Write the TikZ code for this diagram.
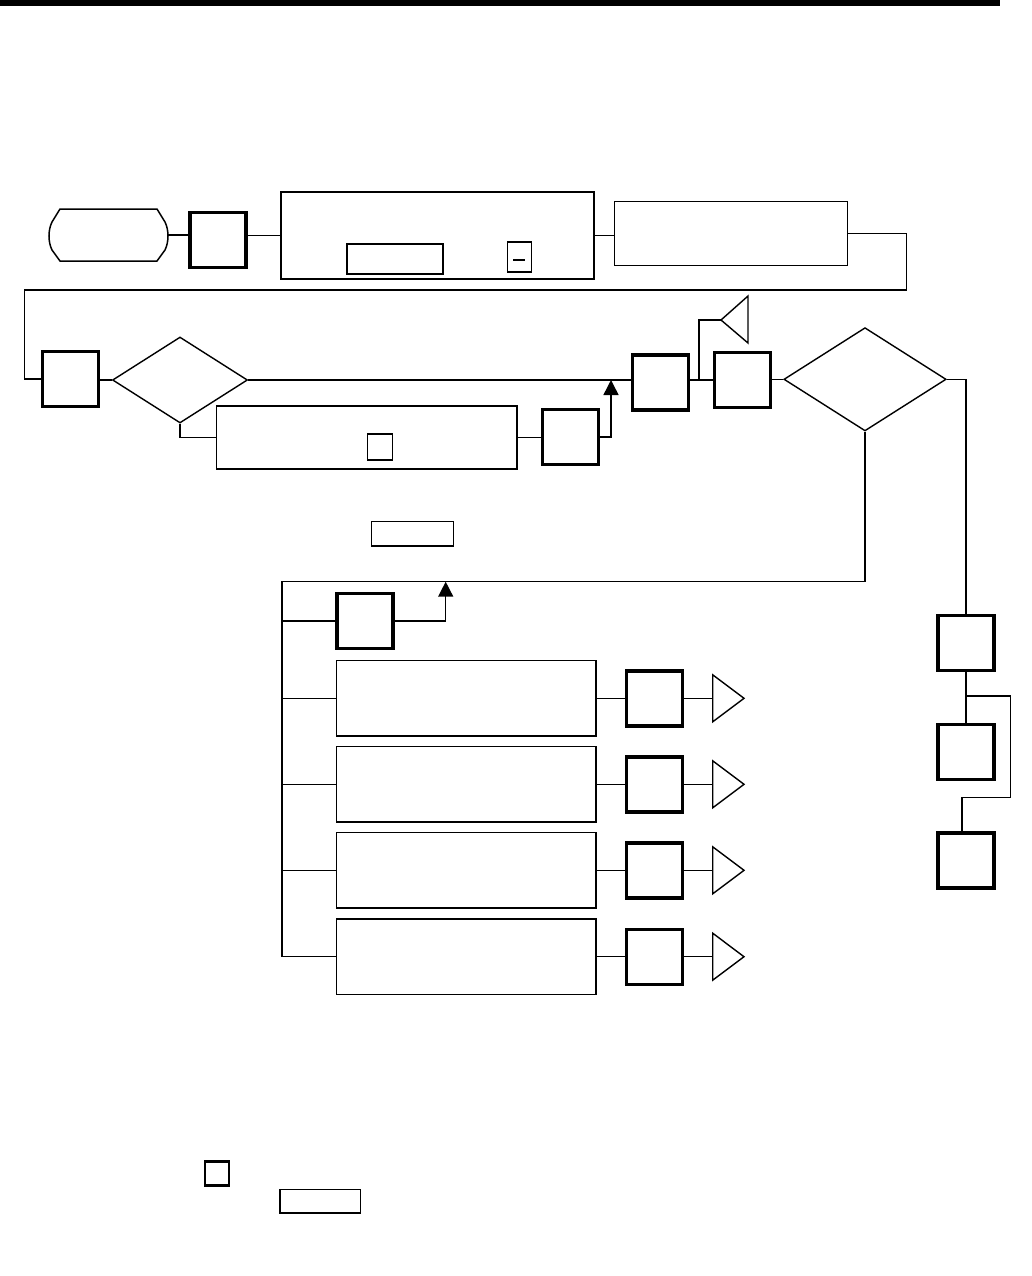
\documentclass[tikz,border=0pt]{standalone}
\usetikzlibrary{shapes.geometric,arrows.meta}
\begin{document}
\begin{tikzpicture}[x=1pt,y=-1pt,
  plainbox/.style={draw,line width=1.5pt,inner sep=0pt,rectangle},
  thickbox/.style={draw,line width=3.4pt,inner sep=0pt,rectangle,minimum width=56pt,minimum height=55pt},
  decision/.style={draw,line width=1.4pt,diamond,inner sep=0pt},
  link/.style={line width=1.5pt},
  uparrow/.style={line width=1.5pt,-{Triangle[width=15pt,length=15pt]}},
  flag/.style={draw,line width=1.4pt,line join=miter}]
\useasboundingbox (0,0) rectangle (1031,1276);
% top bar
\fill (0,0) rectangle (1000,6);
% terminal
\draw[link] (60,209) -- (157,209) -- (165,222) .. controls (169,230) and (169,242) .. (165,250) -- (157,261) -- (60,261) -- (52,250) .. controls (48,242) and (48,230) .. (52,222) -- cycle;
\coordinate (term) at (168,235);
% first row
\node[thickbox] (b1) at (218,240) {};
\node[plainbox,minimum width=313pt,minimum height=87pt] (b2) at (437.5,235.5) {};
\node[plainbox,minimum width=96pt,minimum height=30pt] (b2a) at (395,259) {};
\node[plainbox,minimum width=24pt,minimum height=30pt] (b2b) at (519.5,257) {};
\draw[link] (513,260) -- (525,260);
\node[plainbox,minimum width=232.6pt,minimum height=64pt] (b3) at (731,233.7) {};
\draw[link] (term) -- (term -| b1.west);
\draw[link] (b1.east |- b2.west) -- (b2.west);
\draw[link] (b2.east) -- (b2.east -| b3.west);
\coordinate (c1) at (906.7,290);
\coordinate (c2) at (24.3,379);
% second row
\node[thickbox] (b4) at (70.3,379) {};
\node[decision,minimum width=135pt,minimum height=86pt] (d1) at (180,380) {};
\node[plainbox,minimum width=300.3pt,minimum height=63.3pt] (b7) at (366.8,437.4) {};
\node[plainbox,minimum width=24.6pt,minimum height=26pt] (b7a) at (380,447) {};
\node[thickbox] (b6) at (570.3,437) {};
\node[thickbox] (b5) at (660.5,382.3) {};
\node[thickbox] (b8) at (742.3,380) {};
\node[decision,minimum width=162.3pt,minimum height=103.3pt] (d2) at (865,379.3) {};
\draw[link] (b3.east) -| (c1) -| (c2) -- (c2 -| b4.west);
\draw[link] (b4.east |- d1.west) -- (d1.west);
\coordinate (m1) at (611,380);
\draw[link] (d1.east) -- (d1.east -| b5.west);
\draw[link] (d1.south) |- (b7.west);
\draw[link] (b7.east) -- (b7.east -| b6.west);
\draw[uparrow] (b6.east) -| (m1);
\draw[link] (b5.east |- d1.east) -- (b8.west |- d1.east);
\coordinate (f1) at (721,320);
\draw[link] (699,380) |- (f1);
\draw[flag] (f1) -- (748,296) -- (748,343) -- cycle;
\draw[link] (b8.east |- d2.west) -- (d2.west);
% right column
\node[thickbox] (b9) at (966,643) {};
\node[thickbox] (b11) at (966,752) {};
\node[thickbox] (b12) at (966,860.5) {};
\draw[link] (d2.east) -| (b9.north);
\draw[link] (b9.south) -- (b11.north);
\coordinate (r1) at (1010.7,696);
\coordinate (r2) at (962,797.7);
\draw[link] (966,696) -- (r1) |- (r2) -- (r2 |- b12.north);
% lower branch
\node[plainbox,minimum width=81.6pt,minimum height=24.3pt] (sr) at (412.5,533.8) {};
\coordinate (bus) at (282,581.7);
\coordinate (busend) at (282,956.7);
\draw[link] (d2.south) |- (bus) -- (busend);
\node[thickbox] (b10) at (365,621) {};
\coordinate (m2) at (445.7,581.7);
\draw[link] (bus |- b10.west) -- (b10.west);
\draw[uparrow] (b10.east) -| (m2);
\foreach \i/\yy in {1/698.3,2/784.3,3/870.3,4/956.7}{
  \node[plainbox,minimum width=259.3pt,minimum height=75.3pt] (row\i) at (466.3,\yy) {};
  \node[thickbox] (rb\i) at (654.5,\yy) {};
  \coordinate (rt\i) at (712.7,\yy);
  \draw[link] (bus |- row\i.west) -- (row\i.west);
  \draw[link] (row\i.east) -- (rb\i.west);
  \draw[link] (rb\i.east) -- (rt\i);
  \draw[flag] (rt\i) -- ++(0,-23.5) -- ++(31.3,23.5) -- ++(-31.3,23.5) -- cycle;
}
% legend
\node[draw,line width=2.6pt,inner sep=0pt,minimum width=24pt,minimum height=24pt] (lg1) at (217,1173.7) {};
\node[plainbox,minimum width=80.7pt,minimum height=23.7pt] (lg2) at (320.3,1201.2) {};
\end{tikzpicture}
\end{document}
